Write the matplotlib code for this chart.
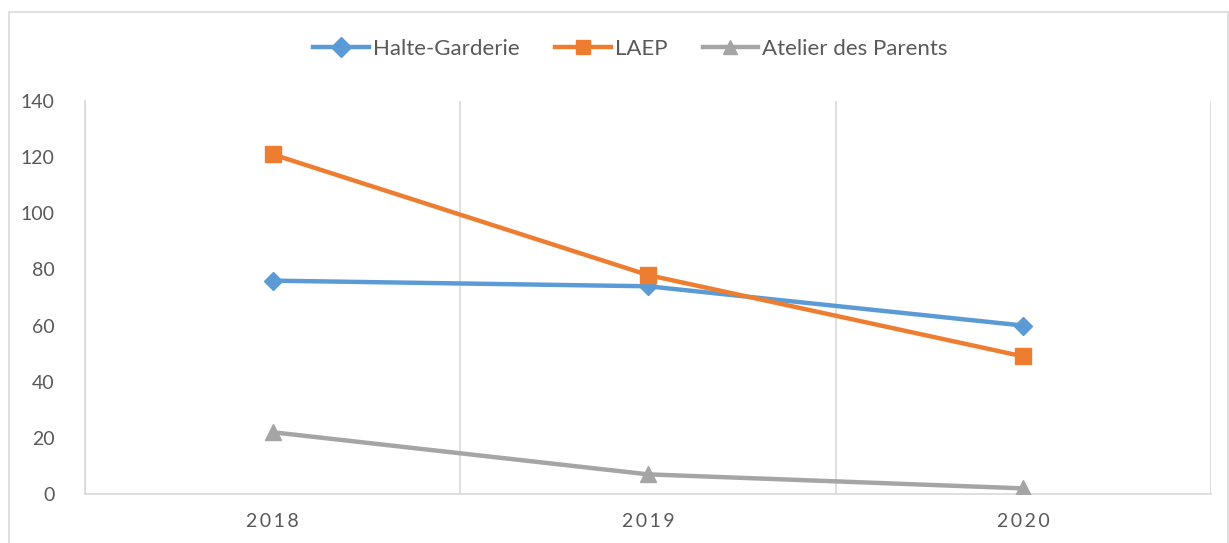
import matplotlib
matplotlib.use("Agg")
import matplotlib.pyplot as plt
from matplotlib.patches import Rectangle

years = ["2018", "2019", "2020"]
halte = [76, 74, 60]
laep = [121, 78, 49]
atelier = [22, 7, 2]
series_names = ["Halte-Garderie", "LAEP", "Atelier des Parents"]
yticks = [0, 20, 40, 60, 80, 100, 120, 140]

plt.rcParams['font.family'] = ['Lato', 'DejaVu Sans']
txt = '#595959'
grid = '#d9d9d9'

fig = plt.figure(figsize=(12.29, 5.43), dpi=100)
fig.patches.append(Rectangle((9/1229, -0.1), (1228-9)/1229, 1.1 - 12/543,
                             transform=fig.transFigure, fill=False,
                             edgecolor=grid, lw=1.2))
ax = fig.add_axes([85/1229, 1-494/543, (1211-85)/1229, (494-101)/543])

x = list(range(len(years)))
ax.plot(x, halte, color='#5B9BD5', lw=3.2, marker='D', ms=9, label=series_names[0], zorder=3)
ax.plot(x, laep, color='#ED7D31', lw=3.2, marker='s', ms=11, label=series_names[1], zorder=3)
ax.plot(x, atelier, color='#A5A5A5', lw=3.2, marker='^', ms=12, label=series_names[2], zorder=3)

ax.set_xlim(-0.5, len(years) - 0.5)
ax.set_ylim(0, 140)
ax.set_yticks(yticks)
ax.set_xticks(x)
ax.set_xticklabels(['\u2009'.join(y) for y in years])
ax.set_xticks([i - 0.5 for i in range(len(years) + 1)], minor=True)
ax.grid(True, axis='x', which='minor', color=grid, lw=1.2)
ax.tick_params(axis='both', which='both', length=0, colors=txt, labelsize=14)
ax.tick_params(axis='x', pad=14)
ax.tick_params(axis='y', pad=22)
for s in ['top', 'right']:
    ax.spines[s].set_visible(False)
for s in ['left', 'bottom']:
    ax.spines[s].set_color(grid)
    ax.spines[s].set_linewidth(1.2)

leg = fig.legend(loc='center', bbox_to_anchor=(0.513, 1 - 49/543), ncol=3,
                 frameon=False, fontsize=16, handlelength=2.5, columnspacing=1.6,
                 handletextpad=0.18, labelcolor=txt)
for h in leg.legend_handles:
    h.set_markersize(10)

fig.savefig('out.png', dpi=100)
